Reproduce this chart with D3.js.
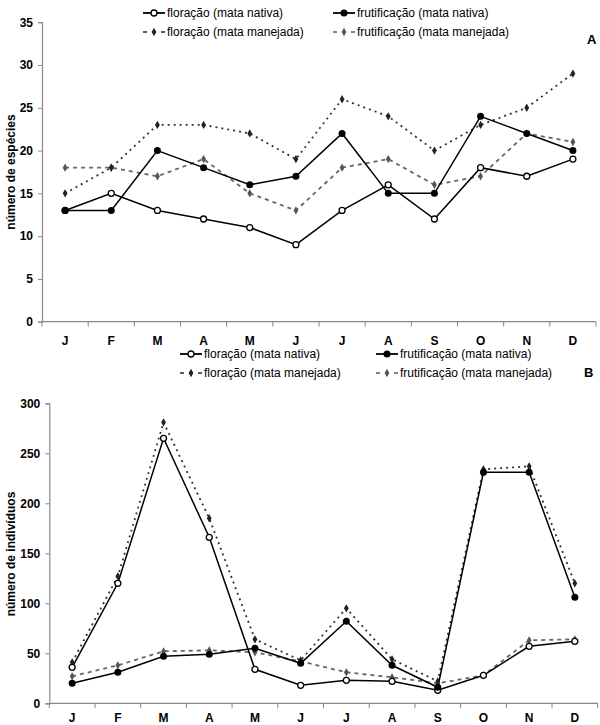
<!DOCTYPE html>
<html><head><meta charset="utf-8">
<script src="https://cdn.jsdelivr.net/npm/d3@7"></script>
<style>body{margin:0;background:#fff}svg{display:block;font-family:"Liberation Sans",Arial,sans-serif}</style>
</head><body>
<svg id="c" width="600" height="725"></svg>
<script>
const months = ["J","F","M","A","M","J","J","A","S","O","N","D"];
const seriesNames = ["floração (mata nativa)","frutificação (mata nativa)","floração (mata manejada)","frutificação (mata manejada)"];

const floracaoNativaA = [13,15,13,12,11,9,13,16,12,18,17,19];
const frutificacaoNativaA = [13,13,20,18,16,17,22,15,15,24,22,20];
const floracaoManejadaA = [15,18,23,23,22,19,26,24,20,23,25,29];
const frutificacaoManejadaA = [18,18,17,19,15,13,18,19,16,17,22,21];
const yTicksA = [0,5,10,15,20,25,30,35];

const floracaoNativaB = [36,120,265,166,34,18,23,22,13,28,57,62];
const frutificacaoNativaB = [20,31,47,49,55,40,82,38,16,231,231,106];
const floracaoManejadaB = [41,127,281,185,64,43,95,44,22,234,237,120];
const frutificacaoManejadaB = [27,38,52,53,51,42,31,26,20,28,63,64];
const yTicksB = [0,50,100,150,200,250,300];

const styles = [
  {stroke:"#000", width:1.5, dash:null, marker:"open"},
  {stroke:"#000", width:1.5, dash:null, marker:"filled"},
  {stroke:"#333", width:1.8, dash:"2,4", marker:"diamond", mcolor:"#222"},
  {stroke:"#666", width:1.8, dash:"4,4", marker:"diamond", mcolor:"#555"}
];

const svg = d3.select("#c");

function drawMarker(g, st, x, y){
  if(st.marker==="open"){
    g.append("circle").attr("cx",x).attr("cy",y).attr("r",3).attr("fill","#fff").attr("stroke","#000").attr("stroke-width",1.3);
  } else if(st.marker==="filled"){
    g.append("circle").attr("cx",x).attr("cy",y).attr("r",3.5).attr("fill","#000");
  } else {
    g.append("path").attr("d",d3.symbol(d3.symbolDiamond,20)()).attr("transform",`translate(${x},${y})`).attr("fill",st.mcolor);
  }
}

function panel(cfg){
  const x = d3.scaleBand().domain(d3.range(12)).range([cfg.x0,cfg.x1]);
  const y = d3.scaleLinear().domain([0,cfg.ymax]).range([cfg.y0,cfg.y1]);
  const g = svg.append("g");
  const ya = g.append("g").attr("transform",`translate(${cfg.x0},0)`)
    .call(d3.axisLeft(y).tickValues(cfg.yticks).tickSize(4).tickPadding(5));
  ya.select(".domain").attr("stroke","#888").attr("stroke-width",1.2);
  ya.selectAll(".tick line").attr("stroke","#888");
  ya.selectAll("text").attr("font-size",12).attr("font-weight","bold").attr("fill","#000");
  const xa = g.append("g").attr("transform",`translate(0,${cfg.y0})`);
  xa.append("line").attr("x1",cfg.x0).attr("x2",cfg.x1).attr("y1",0).attr("y2",0).attr("stroke","#888").attr("stroke-width",1.2);
  d3.range(13).forEach(i=>{
    const px = i<12 ? x(i) : cfg.x1;
    xa.append("line").attr("x1",px).attr("x2",px).attr("y1",0).attr("y2",5).attr("stroke","#888");
  });
  months.forEach((m,i)=>{
    xa.append("text").attr("x",x(i)+x.bandwidth()/2).attr("y",cfg.xlabOff).attr("text-anchor","middle")
      .attr("font-size",12).attr("font-weight","bold").text(m);
  });
  g.append("text").attr("transform",`translate(${cfg.labelX},${cfg.labelY}) rotate(-90)`)
    .attr("text-anchor","middle").attr("font-size",12).attr("font-weight","bold").text(cfg.ylabel);
  g.append("text").attr("x",cfg.letterX).attr("y",cfg.letterY).attr("font-size",13).attr("font-weight","bold").text(cfg.letter);
  const line = d3.line().x((d,i)=>x(i)+x.bandwidth()/2).y(d=>y(d));
  const order = [3,2,0,1];
  order.forEach(k=>{
    const st = styles[k];
    g.append("path").datum(cfg.data[k]).attr("d",line).attr("fill","none")
      .attr("stroke",st.stroke).attr("stroke-width",st.width).attr("stroke-dasharray",st.dash);
  });
  order.forEach(k=>{
    const st = styles[k];
    cfg.data[k].forEach((d,i)=>drawMarker(g,st,x(i)+x.bandwidth()/2,y(d)));
  });
  const lg = g.append("g");
  seriesNames.forEach((n,k)=>{
    const st = styles[k];
    const lx = cfg.legX[k%2], ly = cfg.legY[Math.floor(k/2)];
    if(st.dash){
      lg.append("line").attr("x1",lx).attr("x2",lx+4).attr("y1",ly).attr("y2",ly).attr("stroke",st.stroke).attr("stroke-width",1.6);
      lg.append("line").attr("x1",lx+18).attr("x2",lx+22).attr("y1",ly).attr("y2",ly).attr("stroke",st.stroke).attr("stroke-width",1.6);
    } else {
      lg.append("line").attr("x1",lx).attr("x2",lx+22).attr("y1",ly).attr("y2",ly).attr("stroke",st.stroke).attr("stroke-width",1.8);
    }
    drawMarker(lg,st,lx+11,ly);
    lg.append("text").attr("x",lx+24).attr("y",ly+4).attr("font-size",12).text(n);
  });
}

panel({x0:42,x1:596,y0:321.7,y1:22.2,ymax:35,yticks:yTicksA,ylabel:"número de espécies",labelX:15,labelY:172,
  letter:"A",letterX:587,letterY:44,xlabOff:23,
  data:[floracaoNativaA,frutificacaoNativaA,floracaoManejadaA,frutificacaoManejadaA],
  legX:[143,333],legY:[13,32]});
panel({x0:49.3,x1:597.7,y0:703.3,y1:403.3,ymax:300,yticks:yTicksB,ylabel:"número de indivíduos",labelX:15,labelY:554,
  letter:"B",letterX:584,letterY:377,xlabOff:19,
  data:[floracaoNativaB,frutificacaoNativaB,floracaoManejadaB,frutificacaoManejadaB],
  legX:[180,376],legY:[354,373]});
</script>
</body></html>
